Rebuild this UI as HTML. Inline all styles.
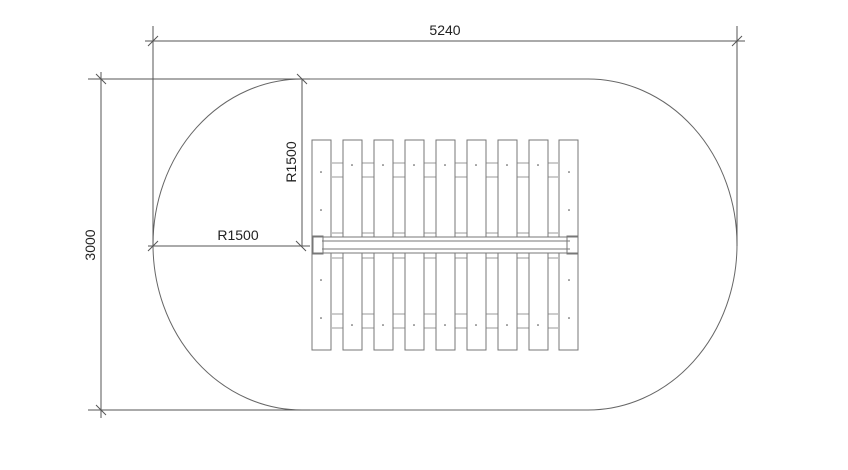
<!DOCTYPE html>
<html><head><meta charset="utf-8"><style>html,body{margin:0;padding:0;background:#fff}svg{display:block}</style></head>
<body>
<svg width="848" height="470" viewBox="0 0 848 470" xmlns="http://www.w3.org/2000/svg" font-family="Liberation Sans, sans-serif">
<g fill="none" stroke="#555" stroke-width="1">
<path d="M302 79 L588 79 A149 165.5 0 0 1 588 410 L302 410 A149 165.5 0 0 1 302 79 Z" stroke="#666"/>
<line x1="145" y1="41" x2="745" y2="41"/>
<line x1="153" y1="26" x2="153" y2="246"/>
<line x1="737" y1="26" x2="737" y2="246"/>
<line x1="148" y1="46" x2="158" y2="36"/>
<line x1="732" y1="46" x2="742" y2="36"/>
<line x1="101" y1="72" x2="101" y2="418"/>
<line x1="88" y1="79" x2="310" y2="79"/>
<line x1="88" y1="410" x2="310" y2="410"/>
<line x1="96" y1="74" x2="106" y2="84"/>
<line x1="96" y1="405" x2="106" y2="415"/>
<line x1="302" y1="79" x2="302" y2="246"/>
<line x1="297" y1="74" x2="307" y2="84"/>
<line x1="148" y1="246" x2="310" y2="246"/>
<line x1="148" y1="251" x2="158" y2="241"/>
<line x1="296" y1="241" x2="306" y2="251"/>
</g>
<g fill="none" stroke="#777" stroke-width="1">
<path d="M332 163H558M332 177H558M332 233H558M332 258H558M332 314H558M332 328H558" stroke="#999"/>
<rect x="312" y="140" width="19" height="210" fill="#fff"/>
<rect x="343" y="140" width="19" height="210" fill="#fff"/>
<rect x="374" y="140" width="19" height="210" fill="#fff"/>
<rect x="405" y="140" width="19" height="210" fill="#fff"/>
<rect x="436" y="140" width="19" height="210" fill="#fff"/>
<rect x="467" y="140" width="19" height="210" fill="#fff"/>
<rect x="498" y="140" width="19" height="210" fill="#fff"/>
<rect x="529" y="140" width="19" height="210" fill="#fff"/>
<rect x="559" y="140" width="19" height="210" fill="#fff"/>
<rect x="313" y="237" width="265" height="16" fill="#fff"/>
<line x1="322" y1="241" x2="570" y2="241"/>
<line x1="322" y1="249" x2="570" y2="249"/>
<rect x="312" y="236" width="11" height="18"/>
<rect x="567" y="236" width="11" height="18"/>
</g>
<g fill="#444">
<circle cx="321" cy="172" r="0.8"/><circle cx="321" cy="210" r="0.8"/><circle cx="321" cy="280" r="0.8"/><circle cx="321" cy="318" r="0.8"/>
<circle cx="569" cy="172" r="0.8"/><circle cx="569" cy="210" r="0.8"/><circle cx="569" cy="280" r="0.8"/><circle cx="569" cy="318" r="0.8"/>
<circle cx="352" cy="165" r="0.8"/><circle cx="383" cy="165" r="0.8"/><circle cx="414" cy="165" r="0.8"/><circle cx="445" cy="165" r="0.8"/><circle cx="476" cy="165" r="0.8"/><circle cx="507" cy="165" r="0.8"/><circle cx="538" cy="165" r="0.8"/>
<circle cx="352" cy="325" r="0.8"/><circle cx="383" cy="325" r="0.8"/><circle cx="414" cy="325" r="0.8"/><circle cx="445" cy="325" r="0.8"/><circle cx="476" cy="325" r="0.8"/><circle cx="507" cy="325" r="0.8"/><circle cx="538" cy="325" r="0.8"/>
</g>
<g fill="#222" font-size="14">
<text x="445" y="35" text-anchor="middle">5240</text>
<text x="238" y="240" text-anchor="middle">R1500</text>
<text transform="translate(296,162) rotate(-90)" text-anchor="middle">R1500</text>
<text transform="translate(95,245) rotate(-90)" text-anchor="middle">3000</text>
</g>
</svg>
</body></html>
